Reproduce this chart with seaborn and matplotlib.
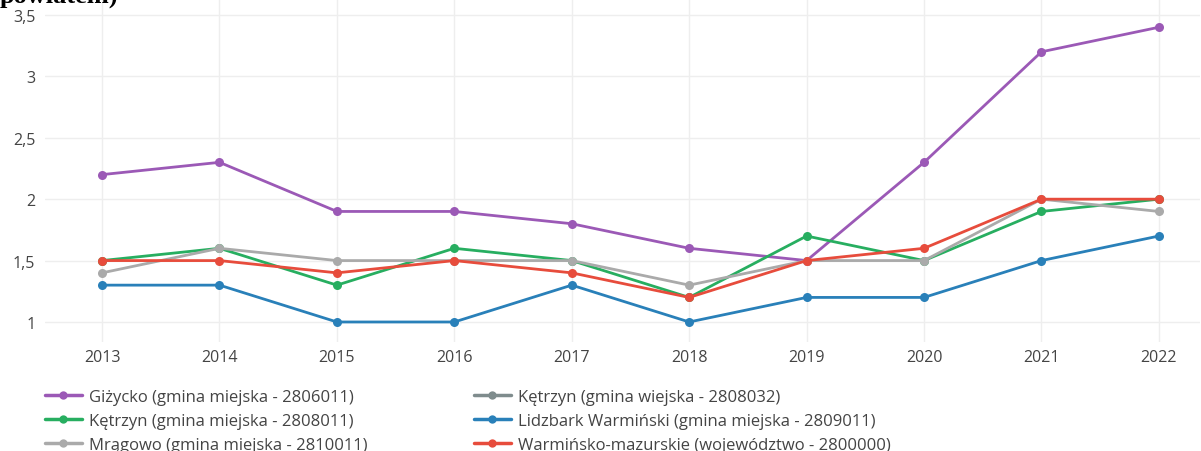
import numpy as np
import pandas as pd
import matplotlib
matplotlib.use("Agg")
import matplotlib.pyplot as plt
from matplotlib.lines import Line2D
from matplotlib.ticker import FuncFormatter
import seaborn as sns

years = [2013, 2014, 2015, 2016, 2017, 2018, 2019, 2020, 2021, 2022]

gizycko = [2.2, 2.3, 1.9, 1.9, 1.8, 1.6, 1.5, 2.3, 3.2, 3.4]
ketrzyn_wiejska = [np.nan] * 10  # listed in legend, no visible values
ketrzyn_miejska = [1.5, 1.6, 1.3, 1.6, 1.5, 1.2, 1.7, 1.5, 1.9, 2.0]
lidzbark = [1.3, 1.3, 1.0, 1.0, 1.3, 1.0, 1.2, 1.2, 1.5, 1.7]
mragowo = [1.4, 1.6, 1.5, 1.5, 1.5, 1.3, 1.5, 1.5, 2.0, 1.9]
wojewodztwo = [1.5, 1.5, 1.4, 1.5, 1.4, 1.2, 1.5, 1.6, 2.0, 2.0]

names = [
    "Giżycko (gmina miejska - 2806011)",
    "Kętrzyn (gmina wiejska - 2808032)",
    "Kętrzyn (gmina miejska - 2808011)",
    "Lidzbark Warmiński (gmina miejska - 2809011)",
    "Mrągowo (gmina miejska - 2810011)",
    "Warmińsko-mazurskie (województwo - 2800000)",
]
series = [gizycko, ketrzyn_wiejska, ketrzyn_miejska, lidzbark, mragowo, wojewodztwo]
colors = ["#9b59b6", "#7f8c8d", "#27ae60", "#2980b9", "#aaaaaa", "#e74c3c"]

rows = []
for name, vals in zip(names, series):
    for y, v in zip(years, vals):
        rows.append({"rok": y, "wartosc": v, "jednostka": name})
df = pd.DataFrame(rows).dropna()

sns.set_style("white")
plt.rcParams["font.family"] = ["Open Sans", "DejaVu Sans"]

fig = plt.figure(figsize=(12.01, 4.52), dpi=100)
ax = fig.add_axes([45 / 1201, 1 - 343 / 452, 1155 / 1201, 343 / 452])

palette = dict(zip(names, colors))
present = [n for n in names if n in set(df["jednostka"])]
sns.lineplot(data=df, x="rok", y="wartosc", hue="jednostka", hue_order=present,
             palette=palette, marker="o", markersize=6.5, markeredgewidth=0,
             linewidth=2, legend=False, ax=ax)

ax.set_xlim(2012.514, 2022.35)
ax.set_ylim(0.837, 3.63)
ax.set_xticks(years)
ax.set_yticks([1, 1.5, 2, 2.5, 3, 3.5])
ax.yaxis.set_major_formatter(FuncFormatter(lambda v, p: f"{v:g}".replace(".", ",")))
ax.grid(True, color="#eeeeee", linewidth=1)
ax.set_axisbelow(True)
for s in ax.spines.values():
    s.set_visible(False)
ax.tick_params(length=0, labelsize=11.5, labelcolor="#444444")
ax.tick_params(axis="y", pad=7)
ax.tick_params(axis="x", pad=5)
ax.set_xlabel("")
ax.set_ylabel("")

# legend: two columns, column-major order
order = [0, 2, 4, 1, 3, 5]
handles = [Line2D([0], [0], color=colors[i], linewidth=2.5, marker="o",
                  markersize=6, markeredgewidth=0) for i in order]
labels = [names[i] for i in order]
fig.legend(handles, labels, loc="upper left", bbox_to_anchor=(45 / 1201, 1 - 390 / 452),
           ncol=2, frameon=False, fontsize=12, handlelength=2.2, handletextpad=0.42,
           columnspacing=6.4, labelspacing=0.47, labelcolor="#444444",
           borderpad=0, borderaxespad=0)

# cut-off heading from the source document
fig.text(0.0, 1 - 3 / 452, "powiatem)", fontsize=19, fontweight="bold",
         family="Liberation Serif", color="black", va="baseline", ha="left")

fig.savefig("out.png", dpi=100)
